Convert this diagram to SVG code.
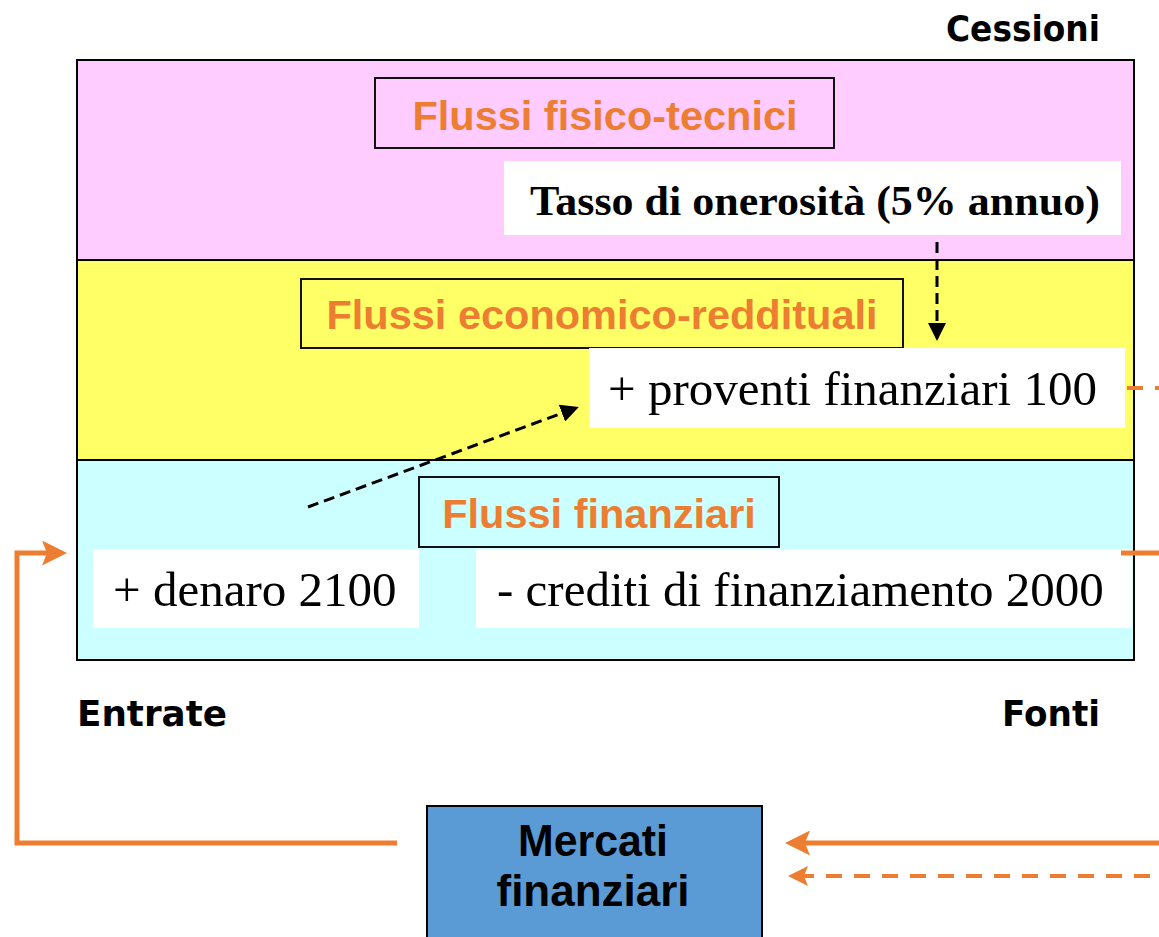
<svg xmlns="http://www.w3.org/2000/svg" width="1159" height="937" viewBox="0 0 1159 937">
<style>
.band{stroke:#000;stroke-width:2}
.title{fill:none;stroke:#111;stroke-width:2}
.ttl{font-family:"Liberation Sans",Arial,sans-serif;font-weight:bold;font-size:41.5px;fill:#ED7D31;text-anchor:middle}
.wbox{fill:#fff}
.tim{font-family:"Liberation Serif","Times New Roman",serif;font-size:49px;fill:#000}
.comic{font-family:"DejaVu Sans",sans-serif;font-weight:bold;font-size:35px;fill:#000}
.blk{stroke:#000;stroke-width:3;stroke-dasharray:11 6;fill:none}
.or{stroke:#ED7D31;stroke-width:5;fill:none}
.ord{stroke:#ED7D31;stroke-width:4;stroke-dasharray:16 12;fill:none}
</style>
<defs>
<marker id="ab" markerWidth="6" markerHeight="6" refX="5" refY="3" orient="auto" markerUnits="strokeWidth"><path d="M0,0 L6,3 L0,6 z" fill="#000"/></marker>
<marker id="ao" markerWidth="5" markerHeight="5" refX="4" refY="2.5" orient="auto" markerUnits="strokeWidth"><path d="M0,0 L5,2.5 L0,5 L1,2.5 z" fill="#ED7D31"/></marker>
</defs>
<rect width="1159" height="937" fill="#fff"/>
<g id="labels">
<text class="comic" x="1100" y="41" text-anchor="end" textLength="154" lengthAdjust="spacingAndGlyphs">Cessioni</text>
<text class="comic" x="77" y="726" textLength="150" lengthAdjust="spacingAndGlyphs">Entrate</text>
<text class="comic" x="1100" y="726" text-anchor="end" textLength="98" lengthAdjust="spacingAndGlyphs">Fonti</text>
</g>
<g id="band-fisico">
<rect class="band" x="77" y="60" width="1057" height="200" fill="#FFCCFF"/>
<rect class="title" x="375" y="78" width="459" height="70"/>
<text class="ttl" x="605" y="130">Flussi fisico-tecnici</text>
</g>
<g id="band-economico">
<rect class="band" x="77" y="260" width="1057" height="200" fill="#FFFF66"/>
<rect class="title" x="301" y="279" width="602" height="69"/>
<text class="ttl" x="602" y="329">Flussi economico-reddituali</text>
</g>
<g id="band-finanziari">
<rect class="band" x="77" y="460" width="1057" height="200" fill="#CCFFFF"/>
<rect class="title" x="419" y="477" width="360" height="70"/>
<text class="ttl" x="599" y="528">Flussi finanziari</text>
</g>
<g id="tasso">
<rect class="wbox" x="504" y="161" width="617" height="74"/>
<text x="530" y="215" font-family="'Liberation Serif','Times New Roman',serif" font-weight="bold" font-size="43" textLength="570" lengthAdjust="spacingAndGlyphs">Tasso di onerosità (5% annuo)</text>
</g>
<g id="proventi">
<rect class="wbox" x="589" y="348" width="536" height="80"/>
<text class="tim" x="608" y="405">+ proventi finanziari 100</text>
</g>
<g id="denaro">
<rect class="wbox" x="93" y="549" width="326" height="79"/>
<text class="tim" x="113" y="606">+ denaro 2100</text>
</g>
<g id="crediti">
<rect class="wbox" x="476" y="549" width="656" height="79"/>
<text class="tim" x="497" y="606">- crediti di finanziamento 2000</text>
</g>
<g id="mercati">
<rect x="427" y="806" width="335" height="140" fill="#5B9BD5" stroke="#000" stroke-width="2"/>
<text x="593" y="856" text-anchor="middle" font-family="'Liberation Sans Narrow','Liberation Sans',sans-serif" font-weight="bold" font-size="44" textLength="150" lengthAdjust="spacingAndGlyphs">Mercati</text>
<text x="593" y="906" text-anchor="middle" font-family="'Liberation Sans Narrow','Liberation Sans',sans-serif" font-weight="bold" font-size="44" textLength="193" lengthAdjust="spacingAndGlyphs">finanziari</text>
</g>
<g id="connectors">
<line class="blk" x1="937" y1="242" x2="937" y2="338" marker-end="url(#ab)"/>
<line class="blk" x1="308" y1="507" x2="576" y2="408" marker-end="url(#ab)"/>
<line class="ord" x1="1127" y1="388" x2="1159" y2="388" stroke-dasharray="12 10"/>
<line class="or" x1="1121" y1="553" x2="1159" y2="553"/>
<path class="or" d="M397,843 H17 V553 H62" marker-end="url(#ao)"/>
<line class="or" x1="1159" y1="843" x2="790" y2="843" marker-end="url(#ao)"/>
<line class="ord" x1="1150" y1="876" x2="792" y2="876" marker-end="url(#ao)"/>
</g>
</svg>
